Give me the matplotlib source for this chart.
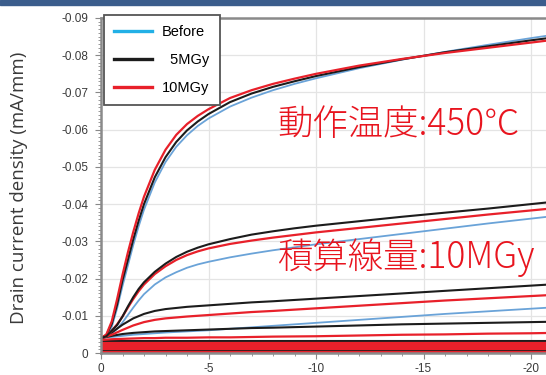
import matplotlib
matplotlib.use("Agg")
import matplotlib.pyplot as plt
from matplotlib.lines import Line2D
from matplotlib.patches import Rectangle
from matplotlib.ticker import MultipleLocator

# drain voltage grids (V)
vd_fine = [0, -0.25, -0.5, -0.75, -1, -1.25, -1.5, -1.75, -2, -2.5, -3, -3.5, -4, -4.5, -5,
           -6, -7, -8, -9, -10, -12, -14, -16, -18, -20, -22]
vd_low = [0, -0.5, -1, -1.5, -2, -2.5, -3, -4, -5, -6, -7, -8, -10, -12, -14, -16, -18, -20, -22]

# highest gate voltage step
before_1 = [-0.004, -0.0045, -0.007, -0.012, -0.018, -0.0235, -0.029, -0.034, -0.0385, -0.0458, -0.0513,
            -0.0554, -0.0585, -0.061, -0.063, -0.0662, -0.0686, -0.0706, -0.0723, -0.0738, -0.0765,
            -0.0788, -0.0809, -0.0828, -0.0846, -0.0863]
mgy5_1 = [-0.004, -0.0048, -0.0078, -0.013, -0.0195, -0.025, -0.0305, -0.0355, -0.040, -0.0472, -0.0526,
          -0.0567, -0.0598, -0.0622, -0.0642, -0.0674, -0.0697, -0.0715, -0.073, -0.0744, -0.0768,
          -0.0789, -0.0808, -0.0824, -0.084, -0.0855]
mgy10_1 = [-0.004, -0.005, -0.0085, -0.0145, -0.021, -0.027, -0.0325, -0.0375, -0.042, -0.0492, -0.0546,
           -0.0586, -0.0615, -0.0637, -0.0655, -0.0685, -0.0706, -0.0723, -0.0737, -0.075, -0.0772,
           -0.079, -0.0806, -0.082, -0.0834, -0.0848]

# second step
before_2 = [-0.004, -0.0043, -0.0052, -0.0065, -0.0082, -0.0102, -0.0122, -0.0141, -0.0158, -0.0184, -0.0203,
            -0.0217, -0.0229, -0.0238, -0.0245, -0.0257, -0.0267, -0.0276, -0.0284, -0.0292, -0.0306,
            -0.032, -0.0334, -0.0348, -0.0361, -0.0374]
mgy5_2 = [-0.004, -0.0045, -0.006, -0.0075, -0.0098, -0.0125, -0.015, -0.0172, -0.019, -0.0218, -0.024,
          -0.0258, -0.0272, -0.0283, -0.0292, -0.0306, -0.0318, -0.0327, -0.0335, -0.0342, -0.0354,
          -0.0366, -0.0377, -0.0388, -0.040, -0.0412]
mgy10_2 = [-0.004, -0.0045, -0.006, -0.0077, -0.0098, -0.0122, -0.0145, -0.0166, -0.0184, -0.0212, -0.0233,
           -0.025, -0.0263, -0.0273, -0.0281, -0.0293, -0.0302, -0.031, -0.0317, -0.0324, -0.0336,
           -0.0348, -0.036, -0.0372, -0.0383, -0.0394]

# third step
before_3 = [-0.004, -0.0043, -0.0046, -0.0049, -0.0051, -0.0053, -0.0055, -0.0058, -0.0061, -0.0065,
            -0.0069, -0.0073, -0.0081, -0.0089, -0.0097, -0.0105, -0.0112, -0.0119, -0.0126]
mgy5_3 = [-0.004, -0.0055, -0.0076, -0.0093, -0.0105, -0.0113, -0.0118, -0.0124, -0.0128, -0.0132,
          -0.0136, -0.0139, -0.0146, -0.0153, -0.016, -0.0167, -0.0174, -0.0181, -0.0188]
mgy10_3 = [-0.004, -0.0049, -0.0062, -0.0074, -0.0083, -0.0089, -0.0093, -0.0098, -0.0102, -0.0106,
           -0.011, -0.0113, -0.012, -0.0127, -0.0134, -0.0141, -0.0147, -0.0153, -0.0159]

# fourth step
mgy5_4 = [-0.004, -0.0046, -0.0051, -0.0054, -0.0056, -0.0058, -0.0059, -0.0061, -0.0063, -0.0065,
          -0.0067, -0.0068, -0.0071, -0.0074, -0.0077, -0.0079, -0.0081, -0.0083, -0.0085]
mgy10_4 = [-0.0035, -0.0037, -0.0038, -0.0039, -0.004, -0.004, -0.0041, -0.0041, -0.0042, -0.0042,
           -0.0043, -0.0044, -0.0045, -0.0047, -0.0049, -0.005, -0.0052, -0.0053, -0.0055]

# near-off steps (flat)
before_off = [-0.0025, -0.0012]
mgy5_off = [-0.0031, -0.0018, -0.0008]
mgy10_off = [-0.0028, -0.0022, -0.0016, -0.001, -0.0004]

legend_labels = ["Before", "\u20075MGy", "10MGy"]
yticks = [0, -0.01, -0.02, -0.03, -0.04, -0.05, -0.06, -0.07, -0.08, -0.09]
xticks = [0, -5, -10, -15, -20]

c_blue = "#6aa3d8"
c_leg_blue = "#22b0e6"
c_black = "#1c1c1c"
c_red = "#e8202a"

fig = plt.figure(figsize=(5.46, 3.75), dpi=100)
fig.patches.append(Rectangle((0, 1 - 5 / 375), 1, 5 / 375, transform=fig.transFigure,
                             color="#3b5d8c", zorder=0))

ax = fig.add_axes([101 / 546, 22 / 375, 25 * 21.5 / 546, 335 / 375])
ax.set_xlim(0, -25)
ax.set_ylim(0, -0.09)

ax.grid(True, color="#e4e4e4", linewidth=0.9)
ax.set_axisbelow(True)

for lvl in before_off:
    ax.axhline(lvl, color=c_blue, lw=1.3)
ax.plot(vd_low, before_3, color=c_blue, lw=1.3)
ax.plot(vd_fine, before_2, color=c_blue, lw=1.3)
ax.plot(vd_fine, before_1, color=c_blue, lw=1.3)

for lvl in mgy5_off:
    ax.axhline(lvl, color=c_black, lw=1.5)
ax.plot(vd_low, mgy5_4, color=c_black, lw=1.5)
ax.plot(vd_low, mgy5_3, color=c_black, lw=1.5)
ax.plot(vd_fine, mgy5_1, color=c_black, lw=1.5)

for lvl in mgy10_off:
    ax.axhline(lvl, color=c_red, lw=1.6)
ax.plot(vd_low, mgy10_4, color=c_red, lw=1.6)
ax.plot(vd_low, mgy10_3, color=c_red, lw=1.6)
ax.plot(vd_fine, mgy10_2, color=c_red, lw=1.6)
ax.plot(vd_fine, mgy10_1, color=c_red, lw=1.6)
# black second step sits on top of red in the picture
ax.plot(vd_fine, mgy5_2, color=c_black, lw=1.5)

ax.set_yticks(yticks)
ax.set_yticklabels(["0"] + ["%.2f" % v for v in yticks[1:]])
ax.set_xticks(xticks)
ax.set_xticklabels(["0"] + ["%d" % v for v in xticks[1:]])
ax.yaxis.set_minor_locator(MultipleLocator(0.001))
ax.xaxis.set_minor_locator(MultipleLocator(1))
ax.tick_params(which="major", length=4, width=0.8, color="#888888", labelsize=8.5,
               labelcolor="#3a3a3a")
ax.tick_params(axis="y", which="major", pad=5)
ax.tick_params(axis="x", which="major", pad=3)
ax.tick_params(which="minor", length=2, width=0.6, color="#888888")
for lab in ax.get_xticklabels() + ax.get_yticklabels():
    lab.set_family(["Liberation Sans", "DejaVu Sans"])

for side in ["top", "left", "bottom"]:
    ax.spines[side].set_color("#8a8a8a")
    ax.spines[side].set_linewidth(1.8)
ax.spines["right"].set_visible(False)

handles = [Line2D([], [], color=c_leg_blue, lw=2.4),
           Line2D([], [], color=c_black, lw=2.4),
           Line2D([], [], color=c_red, lw=2.4)]
leg = ax.legend(handles, legend_labels, loc="upper left", bbox_to_anchor=(0.0056, 1.009),
                borderaxespad=0, fancybox=False, framealpha=1, edgecolor="#555555",
                handlelength=2.6, labelspacing=0.94, handletextpad=0.68, borderpad=0.7,
                prop={"family": ["Liberation Sans", "DejaVu Sans"], "size": 10.5})
leg.get_frame().set_linewidth(1.3)

fig.text(0.034, 0.5, "Drain current density (mA/mm)", rotation=90, ha="center", va="center",
         fontsize=13.5, color="#3a3a3a", family=["Open Sans", "DejaVu Sans"])

jp_font = ["Noto Sans CJK JP", "DejaVu Sans"]
fig.text(277 / 546, 1 - 125 / 375, "動作温度:450℃", ha="left", va="center", fontsize=25.5,
         color="#e8141e", family=jp_font, fontweight="light")
fig.text(277 / 546, 1 - 258 / 375, "積算線量:10MGy", ha="left", va="center", fontsize=25.5,
         color="#e8141e", family=jp_font, fontweight="light")

fig.savefig("out.png", dpi=100)
